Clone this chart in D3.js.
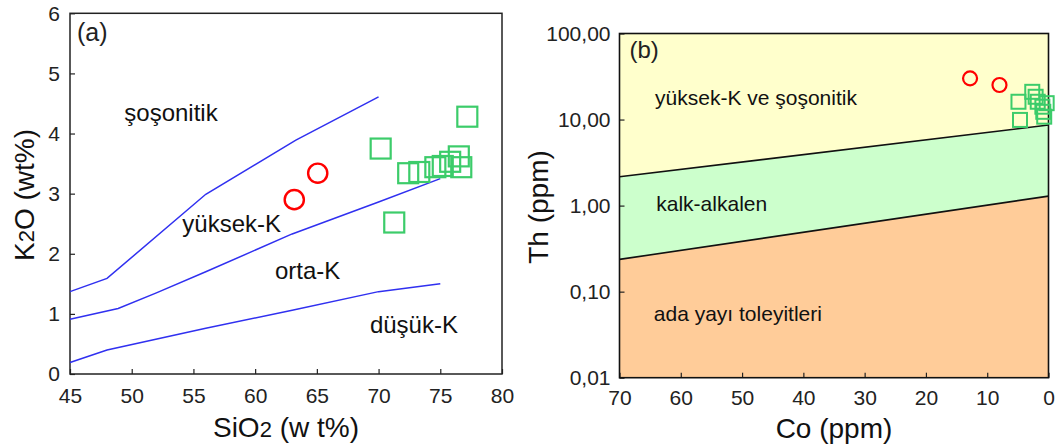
<!DOCTYPE html>
<html>
<head>
<meta charset="utf-8">
<script src="https://cdnjs.cloudflare.com/ajax/libs/d3/7.8.5/d3.min.js"></script>
<style>
  body { margin: 0; background: #fff; }
  svg text { font-family: "Liberation Sans", Arial, sans-serif; }
  .tick text { font-size: 21px; fill: #222; }
  .tick line { stroke: #222; stroke-width: 1.2; }
  .axis-label { font-size: 28px; fill: #111; }
  .field-label { fill: #111; }
</style>
</head>
<body>
<svg id="chart" width="1057" height="447"></svg>
<script>
// ---------- panel (a): SiO2 vs K2O ----------
const siO2Ticks = [45, 50, 55, 60, 65, 70, 75, 80];
const k2oTicks = [0, 1, 2, 3, 4, 5, 6];
// field boundaries [SiO2, K2O]
const shoshoniticLine = [[45, 1.37], [48, 1.59], [56, 2.99], [63.3, 3.89], [70, 4.61]];
const highKLine = [[45, 0.91], [48.9, 1.09], [52, 1.35], [56, 1.7], [63, 2.33], [70, 2.86], [75, 3.25]];
const lowKLine = [[45, 0.19], [48, 0.4], [56, 0.76], [63, 1.06], [70, 1.37], [75, 1.5]];
// samples [SiO2, K2O]
const circlesA = [[63.17, 2.9], [65.07, 3.34]];
const squaresA = [[70.17, 3.75], [77.19, 4.28], [71.27, 2.52], [72.4, 3.34], [73.3, 3.36],
                  [74.6, 3.44], [75.2, 3.46], [75.8, 3.53], [76.5, 3.62], [76.7, 3.44]];
// field names [text, SiO2, K2O]
const fieldsA = [["şoşonitik", 49.4, 4.21], ["yüksek-K", 54.1, 2.37],
                 ["orta-K", 61.6, 1.58], ["düşük-K", 69.3, 0.68]];

// ---------- panel (b): Co vs Th ----------
const coTicks = [70, 60, 50, 40, 30, 20, 10, 0];
const thTicks = [0.01, 0.1, 1, 10, 100];
// boundaries [Co, Th]
const upperBoundary = [[70, 2.16], [0, 8.63]];
const lowerBoundary = [[70, 0.237], [0, 1.29]];
// samples [Co, Th]
const circlesB = [[12.8, 30.1], [8.0, 25.2]];
const squaresB = [[4.9, 16.1], [4.65, 9.9], [2.65, 21.0], [2.1, 18.4], [1.76, 16.1],
                  [1.0, 14.1], [0.85, 12.3], [0.7, 10.8], [0.3, 15.5]];
// field names [text, Co, Th]
const fieldsB = [["yüksek-K ve şoşonitik", 64.2, 14.8], ["kalk-alkalen", 64.0, 0.87],
                 ["ada yayı toleyitleri", 64.4, 0.0457]];

const svg = d3.select('#chart');

// ===== panel (a) =====
const xA = d3.scaleLinear().domain([45, 80]).range([70, 502]);
const yA = d3.scaleLinear().domain([0, 6]).range([374, 13.3]);
const gA = svg.append('g');

gA.append('g')
    .attr('transform', `translate(0,${yA(0)})`)
    .call(d3.axisBottom(xA).tickValues(siO2Ticks).tickFormat(d3.format('d'))
      .tickSizeInner(-5).tickSizeOuter(0).tickPadding(14))
    .call(g => g.select('.domain').remove());
gA.append('g')
    .attr('transform', `translate(${xA(45)},0)`)
    .call(d3.axisLeft(yA).tickValues(k2oTicks).tickFormat(d3.format('d'))
      .tickSizeInner(-5).tickSizeOuter(0).tickPadding(10))
    .call(g => g.select('.domain').remove());
gA.selectAll('.tick text').attr('font-family', null).attr('font-size', null);

gA.append('rect')
    .attr('x', xA(45)).attr('y', yA(6))
    .attr('width', xA(80) - xA(45)).attr('height', yA(0) - yA(6))
    .attr('fill', 'none').attr('stroke', '#222').attr('stroke-width', 1.5);

const lineA = d3.line().x(d => xA(d[0])).y(d => yA(d[1]));
gA.selectAll('.boundary')
    .data([shoshoniticLine, highKLine, lowKLine])
    .enter()
  .append('path')
    .attr('class', 'boundary')
    .attr('d', lineA)
    .attr('fill', 'none')
    .attr('stroke', '#3030f0')
    .attr('stroke-width', 1.5);

gA.selectAll('.field-label')
    .data(fieldsA)
    .enter()
  .append('text')
    .attr('class', 'field-label')
    .attr('x', d => xA(d[1]))
    .attr('y', d => yA(d[2]))
    .style('font-size', '24px')
    .text(d => d[0]);

gA.append('text')
    .attr('x', 77).attr('y', 41)
    .style('font-size', '25px').attr('fill', '#222')
    .text('(a)');

gA.selectAll('.sq')
    .data(squaresA)
    .enter()
  .append('rect')
    .attr('class', 'sq')
    .attr('x', d => xA(d[0]) - 10)
    .attr('y', d => yA(d[1]) - 10)
    .attr('width', 20).attr('height', 20)
    .attr('fill', 'none').attr('stroke', '#3ccc6a').attr('stroke-width', 2.2);

gA.selectAll('.ci')
    .data(circlesA)
    .enter()
  .append('circle')
    .attr('class', 'ci')
    .attr('cx', d => xA(d[0]))
    .attr('cy', d => yA(d[1]))
    .attr('r', 9.6)
    .attr('fill', 'none').attr('stroke', '#f00').attr('stroke-width', 2.4);

// axis titles (a)
const xTitleA = gA.append('text')
    .attr('class', 'axis-label')
    .attr('x', 286).attr('y', 437)
    .attr('text-anchor', 'middle');
xTitleA.append('tspan').text('SiO');
xTitleA.append('tspan').style('font-size', '22px').text('2');
xTitleA.append('tspan').text(' (w t%)');

const yTitleA = gA.append('text')
    .attr('class', 'axis-label')
    .attr('transform', 'translate(34,195) rotate(-90)')
    .attr('text-anchor', 'middle');
yTitleA.append('tspan').text('K');
yTitleA.append('tspan').style('font-size', '22px').text('2');
yTitleA.append('tspan').text('O (wt%)');

// ===== panel (b) =====
const xB = d3.scaleLinear().domain([70, 0]).range([619.5, 1048.5]);
const yB = d3.scaleLog().domain([0.01, 100]).range([377.7, 33.5]);
const gB = svg.append('g');

const topEdge = upperBoundary.map(d => [d[0], 100]);
const bottomEdge = lowerBoundary.map(d => [d[0], 0.01]);
const band = d3.area()
    .x(d => xB(d[0][0]))
    .y0(d => yB(d[0][1]))
    .y1(d => yB(d[1][1]));

gB.append('path')
    .datum(d3.zip(upperBoundary, topEdge))
    .attr('d', band).attr('fill', '#ffffcc');
gB.append('path')
    .datum(d3.zip(lowerBoundary, upperBoundary))
    .attr('d', band).attr('fill', '#ccffcc');
gB.append('path')
    .datum(d3.zip(bottomEdge, lowerBoundary))
    .attr('d', band).attr('fill', '#ffcc99');

const lineB = d3.line().x(d => xB(d[0])).y(d => yB(d[1]));
gB.selectAll('.boundary')
    .data([upperBoundary, lowerBoundary])
    .enter()
  .append('path')
    .attr('class', 'boundary')
    .attr('d', lineB)
    .attr('fill', 'none')
    .attr('stroke', '#111')
    .attr('stroke-width', 1.6);

const commaFmt = d3.formatLocale({ decimal: ',', thousands: '.', grouping: [3], currency: ['', ''] }).format('.2f');

gB.append('g')
    .attr('transform', `translate(0,${yB(0.01)})`)
    .call(d3.axisBottom(xB).tickValues(coTicks).tickFormat(d3.format('d'))
      .tickSizeInner(-5).tickSizeOuter(0).tickPadding(12))
    .call(g => g.select('.domain').remove());
gB.append('g')
    .attr('transform', `translate(${xB(70)},0)`)
    .call(d3.axisLeft(yB).tickValues(thTicks).tickFormat(commaFmt)
      .tickSizeInner(-5).tickSizeOuter(0).tickPadding(9))
    .call(g => g.select('.domain').remove());
gB.selectAll('.tick text').attr('font-family', null).attr('font-size', null);

gB.append('rect')
    .attr('x', xB(70)).attr('y', yB(100))
    .attr('width', xB(0) - xB(70)).attr('height', yB(0.01) - yB(100))
    .attr('fill', 'none').attr('stroke', '#111').attr('stroke-width', 1.6);

gB.selectAll('.field-label')
    .data(fieldsB)
    .enter()
  .append('text')
    .attr('class', 'field-label')
    .attr('x', d => xB(d[1]))
    .attr('y', d => yB(d[2]))
    .style('font-size', '21px')
    .text(d => d[0]);

gB.append('text')
    .attr('x', 629.5).attr('y', 58)
    .style('font-size', '24px').attr('fill', '#222')
    .text('(b)');

gB.selectAll('.sq')
    .data(squaresB)
    .enter()
  .append('rect')
    .attr('class', 'sq')
    .attr('x', d => xB(d[0]) - 7)
    .attr('y', d => yB(d[1]) - 7)
    .attr('width', 14).attr('height', 14)
    .attr('fill', 'none').attr('stroke', '#3ccc6a').attr('stroke-width', 2);

gB.selectAll('.ci')
    .data(circlesB)
    .enter()
  .append('circle')
    .attr('class', 'ci')
    .attr('cx', d => xB(d[0]))
    .attr('cy', d => yB(d[1]))
    .attr('r', 7)
    .attr('fill', 'none').attr('stroke', '#f00').attr('stroke-width', 2.2);

gB.append('text')
    .attr('class', 'axis-label')
    .attr('x', 834).attr('y', 438)
    .attr('text-anchor', 'middle')
    .text('Co (ppm)');

gB.append('text')
    .attr('class', 'axis-label')
    .attr('transform', 'translate(548,207) rotate(-90)')
    .attr('text-anchor', 'middle')
    .text('Th (ppm)');
</script>
</body>
</html>
